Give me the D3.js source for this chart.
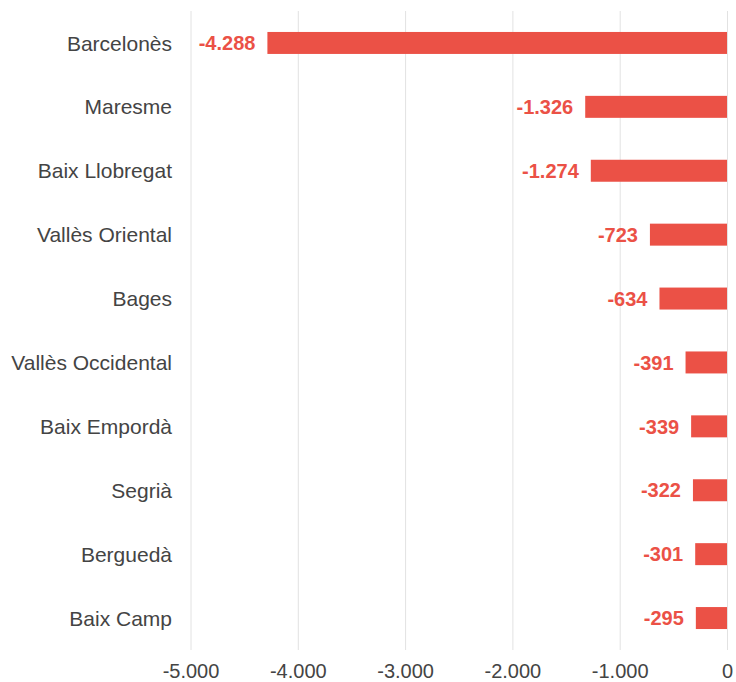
<!DOCTYPE html>
<html>
<head>
<meta charset="utf-8">
<script src="https://cdn.jsdelivr.net/npm/d3@7"></script>
<style>
  body { margin: 0; background: #fff; }
  text { font-family: "Liberation Sans", Arial, sans-serif; }
</style>
</head>
<body>
<svg width="736" height="682"></svg>
<script>
const comarques = ["Barcelonès", "Maresme", "Baix Llobregat", "Vallès Oriental", "Bages",
  "Vallès Occidental", "Baix Empordà", "Segrià", "Berguedà", "Baix Camp"];
const valors = [-4288, -1326, -1274, -723, -634, -391, -339, -322, -301, -295];
const ticks = [-5000, -4000, -3000, -2000, -1000, 0];

const data = comarques.map((c, i) => ({ name: c, value: valors[i] }));

const svg = d3.select('svg');
const fmt = v => v === 0 ? "0" : d3.format(",")(v).replace(/,/g, ".").replace("−", "-");

const x = d3.scaleLinear()
  .domain([-5000, 0])
  .range([191, 727.5]);

const y = d3.scaleBand()
  .domain(comarques)
  .range([11, 650])
  .paddingInner(0.656)
  .paddingOuter(0.328);

// gridlines
svg.append('g')
  .selectAll('line')
  .data(ticks)
  .enter().append('line')
  .attr('x1', d => x(d)).attr('x2', d => x(d))
  .attr('y1', 11).attr('y2', 650)
  .attr('stroke', '#e2e2e2')
  .attr('stroke-width', 1);

// x axis labels
svg.append('g')
  .selectAll('text')
  .data(ticks)
  .enter().append('text')
  .attr('x', d => x(d))
  .attr('y', 678)
  .attr('text-anchor', 'middle')
  .attr('fill', '#444')
  .attr('font-size', 20)
  .text(d => fmt(d));

// bars
svg.append('g')
  .selectAll('rect')
  .data(data)
  .enter().append('rect')
  .attr('x', d => x(d.value))
  .attr('y', d => y(d.name))
  .attr('width', d => x(0) - x(d.value) - 0.5)
  .attr('height', y.bandwidth())
  .attr('fill', '#eb5146');

// value labels
svg.append('g')
  .selectAll('text')
  .data(data)
  .enter().append('text')
  .attr('x', d => x(d.value) - 12)
  .attr('y', d => y(d.name) + y.bandwidth() / 2)
  .attr('dy', '0.36em')
  .attr('text-anchor', 'end')
  .attr('fill', '#eb5146')
  .attr('font-weight', 'bold')
  .attr('font-size', 20)
  .text(d => fmt(d.value));

// category labels
svg.append('g')
  .selectAll('text')
  .data(data)
  .enter().append('text')
  .attr('x', 172)
  .attr('y', d => y(d.name) + y.bandwidth() / 2)
  .attr('dy', '0.36em')
  .attr('text-anchor', 'end')
  .attr('fill', '#444')
  .attr('font-size', 21)
  .text(d => d.name);
</script>
</body>
</html>
